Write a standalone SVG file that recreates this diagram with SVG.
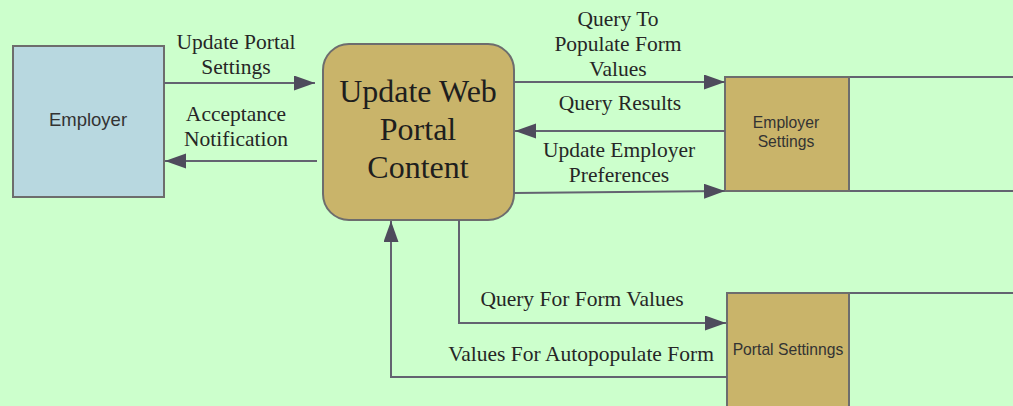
<svg xmlns="http://www.w3.org/2000/svg" width="1013" height="406" viewBox="0 0 1013 406">
<defs>
<marker id="ah" markerUnits="userSpaceOnUse" markerWidth="22" markerHeight="16" refX="21" refY="7.5" orient="auto">
<path d="M0,0 L21,7.5 L0,15 Z" fill="#4e4b5c"/>
</marker>
<style>
.bg{fill:#ccffcc}
.flow{fill:none;stroke:#636370;stroke-width:2;marker-end:url(#ah)}
.edge{fill:none;stroke:#636370;stroke-width:2}
.lbl{font-family:"Liberation Serif",serif;font-size:21.5px;fill:#262626;text-anchor:middle}
.sans{font-family:"Liberation Sans",Arial,sans-serif;fill:#333333;text-anchor:middle}
.store{fill:#c9b46a;stroke:#6d6d6d;stroke-width:2}
.ptxt{font-family:"Liberation Serif",serif;font-size:32px;fill:#1e1e1e;text-anchor:middle}
</style>
</defs>
<rect class="bg" x="0" y="0" width="1013" height="406"/>

<g id="employer">
<rect x="13" y="46" width="151" height="151" fill="#b8d8e0" stroke="#6d6d6d" stroke-width="2"/>
<text class="sans" x="88" y="126" font-size="18.5">Employer</text>
</g>

<g id="process">
<rect x="323" y="44" width="191" height="176" rx="26" ry="26" fill="#c9b46a" stroke="#6d6d6d" stroke-width="2"/>
<text class="ptxt" x="418" y="102">Update Web</text>
<text class="ptxt" x="418" y="140">Portal</text>
<text class="ptxt" x="418" y="178">Content</text>
</g>

<g id="employer-settings">
<line class="edge" x1="725" y1="77" x2="1013" y2="77"/>
<line class="edge" x1="725" y1="191" x2="1013" y2="191"/>
<rect class="store" x="725" y="77" width="124" height="114"/>
<text class="sans" x="786" y="128" font-size="15.7">Employer</text>
<text class="sans" x="786" y="147" font-size="15.7">Settings</text>
</g>

<g id="portal-settings">
<line class="edge" x1="727" y1="293" x2="1013" y2="293"/>
<rect class="store" x="727" y="293" width="122" height="120"/>
<text class="sans" x="788" y="355" font-size="15.7">Portal Settinngs</text>
</g>

<g id="connectors">
<line class="flow" x1="164" y1="83" x2="315" y2="83"/>
<line class="flow" x1="317" y1="161" x2="165" y2="161"/>
<line class="flow" x1="514" y1="82" x2="725" y2="82"/>
<line class="flow" x1="725" y1="131" x2="515" y2="131"/>
<line class="flow" x1="514" y1="193" x2="725" y2="191"/>
<polyline class="flow" points="459,220 459,323 726,323"/>
<polyline class="flow" points="727,377 391,377 391,221"/>
</g>

<g id="labels">
<text class="lbl" x="236" y="49">Update Portal</text>
<text class="lbl" x="236" y="74">Settings</text>
<text class="lbl" x="236" y="121">Acceptance</text>
<text class="lbl" x="236" y="146">Notification</text>
<text class="lbl" x="618" y="26">Query To</text>
<text class="lbl" x="618" y="51">Populate Form</text>
<text class="lbl" x="618" y="76">Values</text>
<text class="lbl" x="620" y="110">Query Results</text>
<text class="lbl" x="619" y="157">Update Employer</text>
<text class="lbl" x="619" y="182">Preferences</text>
<text class="lbl" x="582" y="306">Query For Form Values</text>
<text class="lbl" x="581" y="361">Values For Autopopulate Form</text>
</g>
</svg>
